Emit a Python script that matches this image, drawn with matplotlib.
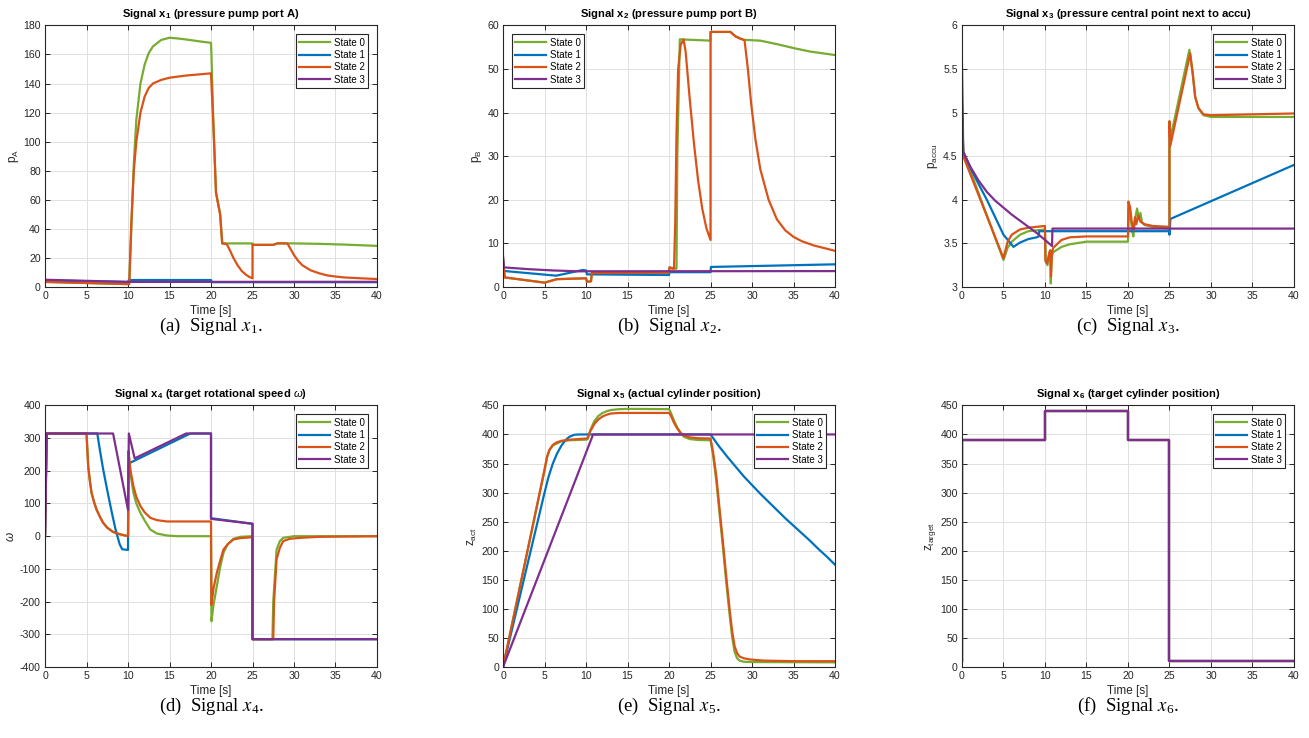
import matplotlib
matplotlib.use('Agg')
import matplotlib.pyplot as plt
from matplotlib.ticker import FormatStrFormatter

# ---------------- values ----------------
states = ['State 0', 'State 1', 'State 2', 'State 3']
colors = ['#77AC30', '#0072BD', '#D95319', '#7E2F8E']

# signal x1 - pressure pump port A
x1_t0 = [0, 10, 10.15, 10.4, 10.7, 11, 11.5, 12, 12.5, 13, 14, 15, 16, 17, 18, 19, 20,
         20.05, 20.3, 20.6, 20.9, 21.1, 21.35, 25, 25, 27.5, 28, 30, 33, 36, 40]
x1_y0 = [3.5, 2.0, 3, 40, 85, 115, 140, 153, 161, 165.5, 170, 171.5, 171, 170.3, 169.5, 168.7, 168,
         160, 110, 65, 56, 50, 30, 30, 29, 29, 30, 30, 29.7, 29.2, 28.3]
x1_t1 = [0, 10, 10.1, 20, 20.1, 40]
x1_y1 = [4.5, 3.5, 4.8, 4.8, 3.3, 3.3]
x1_t2 = [0, 10, 10.15, 10.4, 10.7, 11, 11.5, 12, 12.5, 13, 14, 15, 17, 20,
         20.05, 20.3, 20.6, 20.9, 21.1, 21.35, 21.9, 22.3, 22.7, 23.2, 23.7, 24.2, 24.6, 25,
         25, 27.5, 28, 29.2, 29.6, 30, 30.5, 31, 32, 33, 34, 35, 36, 38, 40]
x1_y2 = [3.5, 2.0, 2, 45, 80, 100, 120, 131, 137, 140, 142.5, 144, 145.5, 147,
         140, 110, 65, 56, 50, 30, 29.5, 25, 20, 15, 11, 8.5, 7, 6,
         29, 29, 30, 30, 26, 22, 18, 15, 11.5, 9.5, 8, 7.2, 6.6, 6, 5.5]
x1_t3 = [0, 10, 40]
x1_y3 = [5.0, 3.5, 3.6]

# signal x2 - pressure pump port B
x2_t0 = [0, 0.2, 5, 6.5, 10, 10.1, 10.6, 10.7, 20, 20.05, 20.9, 21.0, 21.3, 25,
         25, 27.4, 28, 29, 31, 33, 35, 37, 40]
x2_y0 = [6.5, 2.2, 1.0, 1.8, 2.0, 1.2, 1.3, 3.2, 3.3, 4.5, 4.2, 30, 56.8, 56.5,
         58.5, 58.5, 57.5, 56.7, 56.5, 55.7, 54.8, 54.0, 53.2]
x2_t1 = [0, 6.4, 9.6, 10.0, 10.1, 20, 20.05, 25, 25.05, 40]
x2_y1 = [3.7, 2.6, 3.9, 3.8, 2.9, 2.75, 3.4, 3.4, 4.6, 5.2]
x2_t2 = [0, 0.2, 5, 6.5, 10, 10.1, 10.6, 10.7, 20, 20.05, 20.4, 20.6, 20.75, 20.9, 21.1, 21.4,
         21.75, 22.0, 22.5, 23.0, 23.5, 24.0, 24.5, 25, 25, 27.4, 28, 28.5, 29.1, 29.5, 29.9,
         30.4, 31, 32, 33, 34, 35, 36, 37.5, 40]
x2_y2 = [6.5, 2.2, 1.0, 1.8, 2.0, 1.2, 1.3, 3.2, 3.3, 4.5, 4.2, 4.2, 15, 35, 50, 55.5,
         56.8, 54, 43, 33, 24.5, 18, 13.5, 10.8, 58.5, 58.5, 57.5, 57, 56.6, 50, 42,
         34, 27, 20, 15.5, 13, 11.5, 10.5, 9.5, 8.3]
x2_t3 = [0, 0.1, 3, 6, 9, 40]
x2_y3 = [7.0, 4.5, 4.1, 3.8, 3.6, 3.65]

# signal x3 - pressure central point next to accu
x3_t0 = [0, 0.15, 5, 5.5, 6, 7, 8, 9, 10, 10.1, 10.3, 10.5, 10.62, 10.7, 10.8, 11, 12, 13, 15, 20,
         20.1, 20.3, 20.55, 20.65, 20.8, 21.1, 21.3, 21.5, 21.7, 22, 23, 25,
         25, 25.15, 27.4, 27.8, 28.1, 28.5, 29.1, 30, 40]
x3_y0 = [5.0, 4.55, 3.31, 3.45, 3.52, 3.6, 3.64, 3.65, 3.66, 3.3, 3.25, 3.38, 3.42, 3.04, 3.35, 3.4, 3.46, 3.49, 3.52, 3.52,
         3.9, 3.8, 3.62, 3.58, 3.75, 3.9, 3.78, 3.85, 3.74, 3.71, 3.69, 3.67,
         4.9, 4.72, 5.72, 5.45, 5.18, 5.05, 4.97, 4.95, 4.95]
x3_t1 = [0, 0.15, 1, 2, 3, 4, 5, 6.2, 7, 8, 9, 9.25, 9.3, 25, 25, 25.05, 25.1, 40]
x3_y1 = [5.1, 4.55, 4.37, 4.18, 4.0, 3.8, 3.6, 3.46, 3.51, 3.55, 3.57, 3.58, 3.64, 3.64, 3.6, 3.64, 3.78, 4.4]
x3_t2 = [0, 0.15, 5, 5.5, 6, 7, 8, 9, 10, 10.05, 10.25, 10.55, 10.65, 10.72, 10.85, 11, 12, 13, 15, 20,
         20.05, 20.25, 20.45, 20.7, 20.85, 21.0, 21.25, 21.5, 22, 23, 25,
         25, 25.1, 27.5, 27.8, 28.1, 28.5, 29.1, 30, 40]
x3_y2 = [5.0, 4.5, 3.33, 3.52, 3.6, 3.66, 3.68, 3.69, 3.7, 3.3, 3.27, 3.4, 3.42, 3.12, 3.4, 3.45, 3.54, 3.57, 3.58, 3.58,
         3.98, 3.92, 3.75, 3.65, 3.8, 3.72, 3.82, 3.75, 3.72, 3.7, 3.69,
         4.9, 4.62, 5.68, 5.45, 5.18, 5.05, 4.98, 4.97, 4.99]
x3_t3 = [0, 0.15, 1, 2, 3, 4, 5, 6, 7, 8, 9, 10, 10.85, 10.9, 40]
x3_y3 = [5.55, 4.55, 4.38, 4.22, 4.09, 3.99, 3.91, 3.83, 3.76, 3.69, 3.62, 3.54, 3.47, 3.67, 3.67]

# signal x4 - target rotational speed
x4_t0 = [0, 0.02, 0.2, 5, 5.2, 5.4, 5.6, 5.9, 6.2, 6.6, 7, 7.5, 8.2, 9, 10,
         10.05, 10.3, 10.65, 11, 11.5, 12, 12.7, 13.5, 14.7, 16, 20,
         20.05, 20.3, 20.7, 21.1, 21.5, 22, 22.7, 23.5, 25, 25, 27.4, 27.5, 27.9, 28.3, 28.7, 30, 40]
x4_y0 = [0, 50, 314, 314, 214, 170, 133, 105, 82, 60, 41, 26, 13, 6, 0,
         260, 190, 133, 100, 71, 48, 20, 8, 2, 0, 0,
         -260, -210, -153, -95, -51, -25, -8, -2, 0, -315, -315, -200, -41, -15, -5, 0, 0]
x4_t1 = [0, 0.2, 6.3, 6.6, 7, 7.5, 8, 8.5, 9, 9.3, 10, 10.05, 17.5, 20, 20, 25, 25, 40]
x4_y1 = [0, 314, 314, 265, 205, 140, 78, 20, -25, -40, -42, 222, 314, 314, 55, 38, -315, -315]
x4_t2 = [0, 0.2, 5, 5.2, 5.4, 5.6, 5.9, 6.2, 6.6, 7, 7.5, 8.2, 9, 10,
         10.05, 10.3, 10.65, 11, 11.5, 12, 12.7, 13.5, 14.7, 20,
         20.05, 20.3, 20.7, 21.1, 21.5, 22, 22.7, 23.5, 25, 25, 27.5, 27.6, 27.9, 28.3, 28.7,
         29.5, 30.75, 33, 40]
x4_y2 = [0, 314, 314, 214, 170, 133, 105, 82, 60, 41, 26, 13, 6, 0,
         260, 200, 153, 120, 92, 73, 56, 49, 45, 45,
         -210, -160, -112, -75, -41, -25, -10, -6, -3, -315, -315, -200, -71, -35, -15,
         -8, -5, -2, 0]
x4_t3 = [0, 0.2, 8.2, 10, 10.1, 10.8, 17, 20, 20, 25, 25, 40]
x4_y3 = [0, 314, 314, 80, 314, 238, 314, 314, 53, 38, -315, -315]

# signal x5 - actual cylinder position
x5_t0 = [0, 5, 5.3, 5.6, 6, 7, 8, 10, 10.2, 10.5, 11, 11.5, 12, 12.5, 13, 14, 15, 20,
         20.2, 20.6, 21, 21.4, 21.8, 22.5, 23.5, 25, 25.3, 25.7, 26.1, 26.5, 26.9, 27.3,
         27.6, 27.9, 28.2, 28.5, 29, 30, 40]
x5_y0 = [0, 338, 360, 373, 381, 388, 390, 391, 392, 407, 423, 432, 437, 440, 442, 443.5, 444, 443.5,
         438, 424, 412, 402, 396, 392, 390.5, 390, 365, 320, 262, 205, 145, 90,
         52, 26, 15, 11, 9, 8.5, 8]
x5_t1 = [0, 5, 5.5, 6, 6.5, 7, 7.5, 8, 8.6, 9.2, 25, 26, 27, 28, 29, 30, 31, 32, 33, 34, 35,
         36, 37, 38, 39, 40]
x5_y1 = [0, 300, 328, 350, 367, 380, 390, 396, 399.5, 400, 400, 380, 362, 345, 328, 313, 298, 284, 270, 256, 243,
         230, 217, 203, 190, 176]
x5_t2 = [0, 5, 5.3, 5.6, 6, 6.4, 7, 8, 10, 10.2, 10.5, 11, 11.5, 12, 12.5, 13, 14, 20,
         20.2, 20.6, 21, 21.4, 21.8, 22.5, 23.5, 25, 25.3, 25.7, 26.1, 26.5, 26.9, 27.3,
         27.6, 27.9, 28.2, 28.5, 29, 29.75, 31.4, 35, 40]
x5_y2 = [0, 340, 362, 374, 382, 386, 389, 391, 393, 394, 405, 418, 426, 431, 434, 436, 437, 437,
         433, 420, 410, 403, 398, 395, 393.5, 393, 370, 328, 270, 214, 155, 99,
         62, 36, 24, 18, 15, 13, 11, 10, 10]
x5_t3 = [0, 10.85, 40]
x5_y3 = [0, 400, 400]

# signal x6 - target cylinder position (identical for all states)
x6_t = [0, 0, 10, 10, 20, 20, 25, 25, 40]
x6_y = [10, 390, 390, 440, 440, 390, 390, 10, 10]

titles = [r'Signal x$_1$ (pressure pump port A)',
          r'Signal x$_2$ (pressure pump port B)',
          r'Signal x$_3$ (pressure central point next to accu)',
          r'Signal x$_4$ (target rotational speed $\mathit{\omega}$)',
          r'Signal x$_5$ (actual cylinder position)',
          r'Signal x$_6$ (target cylinder position)']
ylabels = [r'p$_A$', r'p$_B$', r'p$_{accu}$', r'$\mathit{\omega}$', r'z$_{act}$', r'z$_{target}$']
captions = [r'(a)  Signal $\mathit{x}_1$.', r'(b)  Signal $\mathit{x}_2$.', r'(c)  Signal $\mathit{x}_3$.',
            r'(d)  Signal $\mathit{x}_4$.', r'(e)  Signal $\mathit{x}_5$.', r'(f)  Signal $\mathit{x}_6$.']
yticks = [range(0, 181, 20), range(0, 61, 10), [3, 3.5, 4, 4.5, 5, 5.5, 6],
          range(-400, 401, 100), range(0, 451, 50), range(0, 451, 50)]
xticks = range(0, 41, 5)

series = [
    [(x1_t0, x1_y0), (x1_t1, x1_y1), (x1_t2, x1_y2), (x1_t3, x1_y3)],
    [(x2_t0, x2_y0), (x2_t1, x2_y1), (x2_t2, x2_y2), (x2_t3, x2_y3)],
    [(x3_t0, x3_y0), (x3_t1, x3_y1), (x3_t2, x3_y2), (x3_t3, x3_y3)],
    [(x4_t0, x4_y0), (x4_t1, x4_y1), (x4_t2, x4_y2), (x4_t3, x4_y3)],
    [(x5_t0, x5_y0), (x5_t1, x5_y1), (x5_t2, x5_y2), (x5_t3, x5_y3)],
    [(x6_t, x6_y)] * 4,
]

# ---------------- style (MATLAB-like) ----------------
plt.rcParams['font.family'] = ['Liberation Sans', 'DejaVu Sans']
plt.rcParams['mathtext.fontset'] = 'custom'
plt.rcParams['mathtext.rm'] = 'Liberation Sans'
plt.rcParams['mathtext.it'] = 'Liberation Sans:italic'
plt.rcParams['mathtext.default'] = 'regular'
axcol = '#262626'

fig = plt.figure(figsize=(13.09, 7.38), dpi=100)

lefts = [0.0344, 0.3843, 0.7349]
bottoms = [0.6111, 0.0962]
w, h = 0.2536, 0.3545

for k in range(6):
    row, col = k // 3, k % 3
    ax = fig.add_axes([lefts[col], bottoms[row], w, h])
    for s in range(4):
        t, y = series[k][s]
        ax.plot(t, y, color=colors[s], lw=1.6, label=states[s])

    ax.set_xlim(0, 40)
    ax.set_ylim(min(yticks[k]), max(yticks[k]))
    ax.set_xticks(list(xticks))
    ax.set_yticks(list(yticks[k]))
    ax.yaxis.set_major_formatter(FormatStrFormatter('%g'))
    ax.grid(True, color='#e0e0e0', lw=0.7)
    ax.set_axisbelow(True)
    ax.tick_params(direction='in', top=True, right=True, length=3.5, width=0.7,
                   labelsize=7.6, colors=axcol, pad=3)
    for sp in ax.spines.values():
        sp.set_color(axcol)
        sp.set_linewidth(0.8)

    ax.set_title(titles[k], fontsize=8.1, fontweight='bold', pad=6)
    ax.set_xlabel('Time [s]', fontsize=8.5, color=axcol, labelpad=2.5)
    ax.set_ylabel(ylabels[k], fontsize=8.5, color=axcol, labelpad=2)

    loc = 'upper left' if k == 1 else 'upper right'
    leg = ax.legend(loc=loc, fontsize=7, handlelength=3.2, fancybox=False, framealpha=1,
                    edgecolor='#262626', borderaxespad=0.9, labelspacing=0.25,
                    handletextpad=0.4, borderpad=0.35)
    leg.get_frame().set_linewidth(0.8)

    # sub-figure caption under each panel
    cx = lefts[col] + w / 2
    cy = 0.5575 if row == 0 else 0.0425
    fig.text(cx, cy, captions[k], ha='center', va='center', fontsize=13.5,
             family='Liberation Serif', math_fontfamily='stix')

fig.savefig('out.png', dpi=100)
